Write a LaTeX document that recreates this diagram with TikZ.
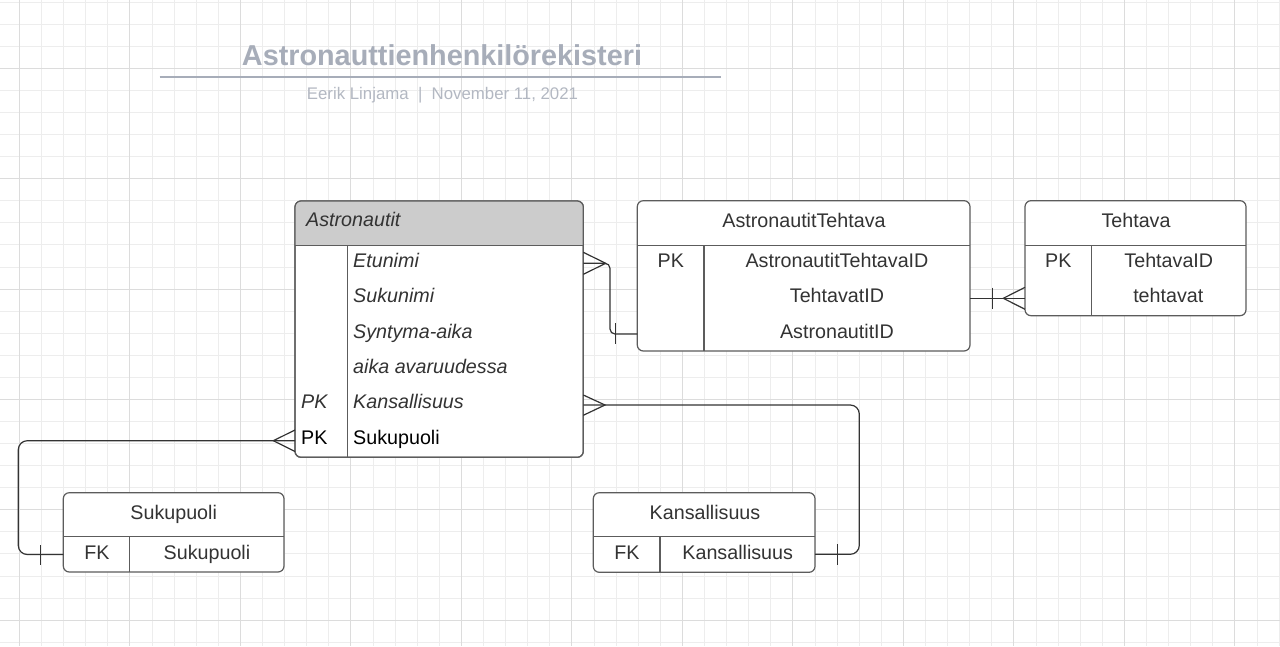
\documentclass[tikz,border=0pt]{standalone}
\usepackage{fontspec}
\setmainfont{Liberation Sans}
\usetikzlibrary{calc}
\definecolor{gridminor}{HTML}{EDEDED}
\definecolor{gridmajor}{HTML}{DCDCDC}
\definecolor{titlecol}{HTML}{A7ADB9}
\definecolor{subcol}{HTML}{B3B8C2}
\definecolor{txt}{HTML}{333333}
\definecolor{bord}{HTML}{5C5C5C}
\definecolor{hdrfill}{HTML}{CCCCCC}
\definecolor{conncol}{HTML}{333333}
\begin{document}
\begin{tikzpicture}[x=1pt,y=-1pt,
  tbl/.style={draw=bord, line width=1.2pt, fill=white, rounded corners=6pt, inner sep=0pt, outer sep=0pt},
  sepline/.style={draw=bord, line width=1.2pt},
  cell/.style={font=\fontsize{19.7}{23}\selectfont, text=txt, inner sep=0pt, anchor=base},
  celll/.style={cell, anchor=base west},
  cellit/.style={celll, font=\fontsize{19.7}{23}\selectfont\itshape},
  conn/.style={draw=conncol, line width=1.2pt, rounded corners=9pt},
  foot/.style={draw=conncol, line width=1.2pt},
]
\useasboundingbox (0,0) rectangle (1280,646);
\fill[white] (0,0) rectangle (1280,646);
% grid
\foreach \i in {0,...,57} \draw[gridminor, line width=1pt] ({19.4+22.1*\i},0) -- ({19.4+22.1*\i},646);
\foreach \j in {-3,...,26} \draw[gridminor, line width=1pt] (0,{68.4+22.07*\j}) -- (1280,{68.4+22.07*\j});
\foreach \i in {0,...,11} \draw[gridmajor, line width=1pt] ({19.4+110.5*\i},0) -- ({19.4+110.5*\i},646);
\foreach \j in {0,...,5} \draw[gridmajor, line width=1pt] (0,{68.4+110.35*\j}) -- (1280,{68.4+110.35*\j});

% title
\node[font=\fontsize{28.8}{34}\selectfont\bfseries, text=titlecol, anchor=base, inner sep=0pt] (title) at (442,65.5) {Astronauttienhenkilörekisteri};
\coordinate (ruleL) at (159.5,77);
\coordinate (ruleR) at (721,77);
\draw[titlecol, line width=2.5pt] (ruleL) -- (ruleR);
\node[font=\fontsize{16.8}{20}\selectfont, text=subcol, anchor=base, inner sep=0pt] (sub) at (442.5,99.3) {Eerik Linjama\ \ |\ \ November 11, 2021};

% Astronautit
\node[tbl, minimum width=288.3pt, minimum height=256.3pt] (astro) at (439.15,329.15) {};
\begin{scope}
  \clip[rounded corners=6pt] (astro.north west) rectangle (astro.south east);
  \fill[hdrfill] (astro.north west) rectangle (583.3,245.7);
\end{scope}
\draw[bord, line width=1.2pt, rounded corners=6pt] (astro.north west) rectangle (astro.south east);
\draw[sepline] (astro.west |- 0,245.7) -- (astro.east |- 0,245.7);
\draw[sepline] (347.3,245.7) -- (347.3,457.3);
\node[cellit] (astroT) at (306,226.7) {Astronautit};
\node[cellit] (a1) at (353,267.3) {Etunimi};
\node[cellit] (a2) at (353,302.7) {Sukunimi};
\node[cellit] (a3) at (353,338.1) {Syntyma-aika};
\node[cellit] (a4) at (353,373.5) {aika avaruudessa};
\node[cellit] (a5k) at (301,408.9) {PK};
\node[cellit] (a5) at (353,408.9) {Kansallisuus};
\node[celll, text=black] (a6k) at (301,444.3) {PK};
\node[celll, text=black] (a6) at (353,444.3) {Sukupuoli};

% AstronautitTehtava
\node[tbl, minimum width=332.7pt, minimum height=150.3pt] (atteh) at (803.65,275.85) {};
\draw[sepline] (atteh.west |- 0,245.7) -- (atteh.east |- 0,245.7);
\draw[sepline] (704,245.7) -- (704,351);
\node[cell] (athdr) at (804,227.3) {AstronautitTehtava};
\node[cell] (atpk) at (670.8,267.3) {PK};
\node[cell] (at1) at (837,267.3) {AstronautitTehtavaID};
\node[cell] (at2) at (837,302.7) {TehtavatID};
\node[cell] (at3) at (837,338.1) {AstronautitID};

% Tehtava
\node[tbl, minimum width=221pt, minimum height=115pt] (teht) at (1135.5,258.2) {};
\draw[sepline] (teht.west |- 0,245.7) -- (teht.east |- 0,245.7);
\draw[sepline] (1091.3,245.7) -- (1091.3,315.7);
\node[cell] (thdr) at (1136,227.3) {Tehtava};
\node[cell] (tpk) at (1058.3,267.3) {PK};
\node[cell] (t1) at (1168.8,267.3) {TehtavaID};
\node[cell] (t2) at (1168.3,302.7) {tehtavat};

% Sukupuoli
\node[tbl, minimum width=220.7pt, minimum height=79.3pt] (sukup) at (173.65,532.35) {};
\draw[sepline] (sukup.west |- 0,536.7) -- (sukup.east |- 0,536.7);
\draw[sepline] (129.3,536.7) -- (129.3,572);
\node[cell] (shdr) at (173.7,519.3) {Sukupuoli};
\node[cell] (sfk) at (97,559.3) {FK};
\node[cell] (s1) at (207,559.3) {Sukupuoli};

% Kansallisuus
\node[tbl, minimum width=221.7pt, minimum height=79.6pt] (kans) at (704.15,532.5) {};
\draw[sepline] (kans.west |- 0,536.7) -- (kans.east |- 0,536.7);
\draw[sepline] (660,536.7) -- (660,572.3);
\node[cell] (khdr) at (705,519.3) {Kansallisuus};
\node[cell] (kfk) at (627,559.3) {FK};
\node[cell] (k1) at (737.7,559.3) {Kansallisuus};

% connector Astronautit -- AstronautitTehtava
\draw[conn, rounded corners=5pt] (astro.east |- 0,263.3) -- (610,263.3) -- (610,334) -- (atteh.west |- 0,334);
\draw[foot] (astro.east |- 0,252.3) -- (605.7,263.3) -- (astro.east |- 0,274.3);
\draw[foot] (615.5,323) -- (615.5,344);

% connector AstronautitTehtava -- Tehtava
\draw[conn] (atteh.east |- 0,298.3) -- (teht.west |- 0,298.3);
\draw[foot] (992.3,287.7) -- (992.3,309);
\draw[foot] (teht.west |- 0,287.3) -- (1003.3,298.3) -- (teht.west |- 0,309.3);

% connector Astronautit -- Sukupuoli
\draw[conn] (astro.west |- 0,440.7) -- (18.3,440.7) -- (18.3,554.5) -- (sukup.west |- 0,554.5);
\draw[foot] (40.7,545) -- (40.7,565);
\draw[foot] (astro.west |- 0,430) -- (273.3,440.7) -- (astro.west |- 0,451.5);

% connector Astronautit -- Kansallisuus
\draw[conn] (astro.east |- 0,405) -- (859.3,405) -- (859.3,554.3) -- (kans.east |- 0,554.3);
\draw[foot] (837.7,544) -- (837.7,565);
\draw[foot] (astro.east |- 0,395) -- (605,405) -- (astro.east |- 0,415.3);
\end{tikzpicture}
\end{document}
